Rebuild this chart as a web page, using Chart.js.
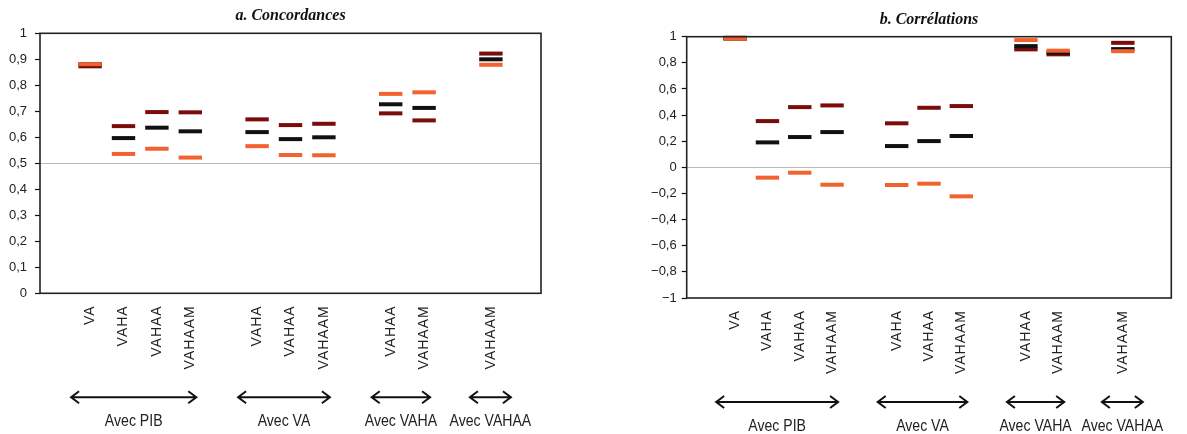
<!DOCTYPE html>
<html>
<head>
<meta charset="utf-8">
<script src="https://cdn.jsdelivr.net/npm/chart.js@4.4.1/dist/chart.umd.min.js"></script>
<style>
  html, body { margin: 0; padding: 0; background: #fff; }
  #wrap { position: relative; width: 1187px; height: 434px; overflow: hidden; background: #fff; }
  canvas { position: absolute; top: 0; }
</style>
</head>
<body>
<div id="wrap">
  <canvas id="conc" width="590" height="434" style="left:0"></canvas>
  <canvas id="corr" width="597" height="434" style="left:590px"></canvas>
</div>
<script>
// Category slots; empty strings leave a gap between the comparison groups
const categories = ['', 'VA', 'VAHA', 'VAHAA', 'VAHAAM', '', 'VAHA', 'VAHAA', 'VAHAAM', '', 'VAHAA', 'VAHAAM', '', 'VAHAAM', ''];

// a. Concordances
const concOrange = [null, 0.881, 0.536, 0.556, 0.522, null, 0.566, 0.532, 0.531, null, 0.767, 0.773, null, 0.879, null];
const concBlack  = [null, 0.881, 0.597, 0.637, 0.623, null, 0.620, 0.593, 0.600, null, 0.727, 0.713, null, 0.900, null];
const concMaroon = [null, 0.873, 0.643, 0.697, 0.696, null, 0.669, 0.647, 0.652, null, 0.692, 0.665, null, 0.922, null];

// b. Corrélations
const corrOrange = [null, 0.985, -0.079, -0.041, -0.133, null, -0.135, -0.125, -0.222, null, 0.974, 0.893, null, 0.889, null];
const corrBlack  = [null, 0.985, 0.191, 0.232, 0.270, null, 0.163, 0.201, 0.240, null, 0.928, 0.878, null, 0.905, null];
const corrMaroon = [null, 0.992, 0.354, 0.461, 0.474, null, 0.337, 0.456, 0.469, null, 0.903, 0.865, null, 0.953, null];

// Comparison groups drawn under the axis: label, first and last category index
const groupNames = ['Avec PIB', 'Avec VA', 'Avec VAHA', 'Avec VAHAA'];
const groupFirst = [1, 6, 10, 13];
const groupLast  = [4, 8, 11, 13];

const COLORS = { orange: '#f1622e', black: '#111111', maroon: '#7a0c0c' };

function tickLabel(v) {
  const r = Math.round(v * 10) / 10;
  if (r === 0) return '0';
  const a = Math.abs(r);
  const s = a === 1 ? '1' : a.toFixed(1).replace('.', ',');
  return (r < 0 ? '\u2212' : '') + s;
}

function markSet(values, color, order) {
  return {
    data: values,
    order: order,
    showLine: false,
    clip: false,
    pointStyle: 'line',
    pointRadius: 11.7,
    pointHoverRadius: 11.7,
    pointBorderWidth: 4,
    pointHoverBorderWidth: 4,
    pointBorderColor: color,
    pointBackgroundColor: color,
    borderColor: color,
    backgroundColor: color
  };
}

function drawArrow(ctx, x0, x1, y) {
  const l = 8, h = 6;
  ctx.beginPath();
  ctx.moveTo(x0, y); ctx.lineTo(x1, y);
  ctx.moveTo(x0 + l, y - h); ctx.lineTo(x0, y); ctx.lineTo(x0 + l, y + h);
  ctx.moveTo(x1 - l, y - h); ctx.lineTo(x1, y); ctx.lineTo(x1 - l, y + h);
  ctx.stroke();
}

// Frame, panel title and group arrows with their captions
const annotate = {
  id: 'annotate',
  afterDatasetsDraw(chart) {
    chart.ctx.letterSpacing = '1px';   // spaced x labels are drawn after the datasets
  },
  afterDraw(chart, args, opts) {
    const ctx = chart.ctx;
    ctx.letterSpacing = '0px';
    const a = chart.chartArea;
    const xs = chart.scales.x;
    ctx.save();
    ctx.strokeStyle = '#222';
    ctx.lineWidth = 1.6;
    ctx.strokeRect(a.left, a.top, a.right - a.left, a.bottom - a.top);

    ctx.fillStyle = '#111';
    ctx.textAlign = 'center';
    ctx.textBaseline = 'middle';
    ctx.font = 'italic bold 16px "Liberation Serif", "Times New Roman", serif';
    ctx.fillText(opts.title, (a.left + a.right) / 2, a.top - 17);

    ctx.strokeStyle = '#111';
    ctx.lineWidth = 2;
    const yArrow = a.bottom + 104;
    const yText = a.bottom + 128.5;
    for (let i = 0; i < groupNames.length; i++) {
      const p0 = xs.getPixelForValue(groupFirst[i]);
      const p1 = xs.getPixelForValue(groupLast[i]);
      let x0, x1;
      if (groupFirst[i] === groupLast[i]) { x0 = p0 - 21; x1 = p1 + 20; }
      else { x0 = p0 - 19; x1 = p1 + 6; }
      drawArrow(ctx, x0, x1, yArrow);
      ctx.save();
      ctx.translate((x0 + x1) / 2, yText);
      ctx.scale(0.88, 1);
      ctx.font = '16px "Liberation Sans", Arial, sans-serif';
      ctx.fillStyle = '#222';
      ctx.fillText(groupNames[i], 0, 0);
      ctx.restore();
    }
    ctx.restore();
  }
};

function makeChart(id, cfg) {
  return new Chart(document.getElementById(id), {
    type: 'line',
    data: {
      labels: categories,
      datasets: [
        markSet(cfg.orange, COLORS.orange, 0),
        markSet(cfg.black, COLORS.black, 1),
        markSet(cfg.maroon, COLORS.maroon, 2)
      ]
    },
    plugins: [annotate],
    options: {
      responsive: false,
      animation: false,
      events: [],
      layout: { padding: { top: cfg.padTop, right: cfg.padRight, left: 0, bottom: 0 } },
      plugins: {
        legend: { display: false },
        tooltip: { enabled: false },
        annotate: { title: cfg.title }
      },
      scales: {
        x: {
          type: 'category',
          offset: true,
          grid: { display: false, drawTicks: false },
          border: { display: false },
          ticks: {
            autoSkip: false,
            minRotation: 90,
            maxRotation: 90,
            padding: 12,
            z: 1,
            color: '#222',
            font: { family: '"Liberation Sans", Arial, sans-serif', size: 14 }
          },
          afterFit(scale) { scale.height = cfg.xHeight; }
        },
        y: {
          min: cfg.min,
          max: 1,
          ticks: {
            stepSize: cfg.step,
            padding: cfg.tickPad,
            color: '#222',
            font: { family: '"Liberation Sans", Arial, sans-serif', size: 13 },
            callback: (v) => tickLabel(v)
          },
          grid: {
            drawTicks: true,
            tickLength: 5,
            tickColor: '#111',
            tickWidth: 1.2,
            lineWidth: 1,
            color: (c) => (c.tick && Math.abs(c.tick.value - cfg.refLine) < 1e-9) ? '#b8b8b8' : 'rgba(0,0,0,0)'
          },
          border: { display: false },
          afterFit(scale) { scale.width = cfg.yWidth; }
        }
      }
    }
  });
}

makeChart('conc', {
  title: 'a. Concordances',
  orange: concOrange, black: concBlack, maroon: concMaroon,
  min: 0, step: 0.1, refLine: 0.5,
  padTop: 33.3, padRight: 49, yWidth: 40, xHeight: 140.7, tickPad: 8
});

makeChart('corr', {
  title: 'b. Corr\u00e9lations',
  orange: corrOrange, black: corrBlack, maroon: corrMaroon,
  min: -1, step: 0.2, refLine: 0,
  padTop: 36.7, padRight: 3.3, yWidth: 96.7, xHeight: 136, tickPad: 5
});
</script>
</body>
</html>
